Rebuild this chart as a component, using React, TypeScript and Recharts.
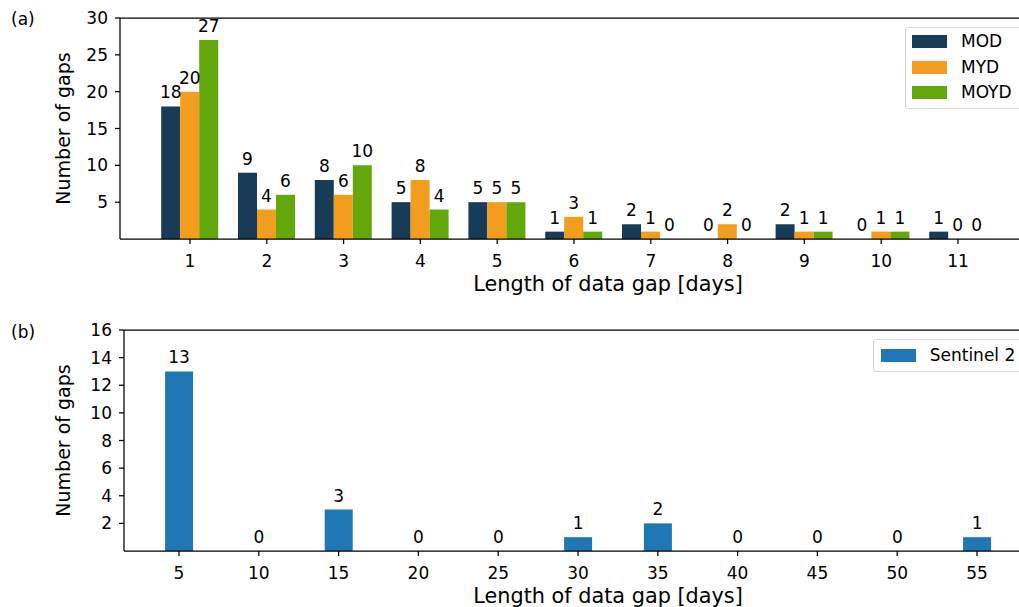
import React from 'react';
import { BarChart, Bar, XAxis, YAxis, LabelList, Legend, ReferenceLine } from 'recharts';

const topCategories = ['1', '2', '3', '4', '5', '6', '7', '8', '9', '10', '11'];
const modValues = [18, 9, 8, 5, 5, 1, 2, 0, 2, 0, 1];
const mydValues = [20, 4, 6, 8, 5, 3, 1, 2, 1, 1, 0];
const moydValues = [27, 6, 10, 4, 5, 1, 0, 0, 1, 1, 0];
const topTicks = [5, 10, 15, 20, 25, 30];
const topSeriesOrder = ['MOD', 'MYD', 'MOYD'];

const bottomCategories = ['5', '10', '15', '20', '25', '30', '35', '40', '45', '50', '55'];
const sentinelValues = [13, 0, 3, 0, 0, 1, 2, 0, 0, 0, 1];
const bottomTicks = [2, 4, 6, 8, 10, 12, 14, 16];

const topData = topCategories.map((c, i) => ({ cat: c, MOD: modValues[i], MYD: mydValues[i], MOYD: moydValues[i] }));
const bottomData = bottomCategories.map((c, i) => ({ cat: c, s2: sentinelValues[i] }));

const FONT = 'DejaVu Sans';
const TEXT = '#000';
const TICK_FS = 17;
const AX = { stroke: '#000', strokeWidth: 1.25 };
const MIN_PT = 0.01;

const yLabel = (text: string) => (props: any) => {
  const vb = props.viewBox || {};
  const cx = 62.5;
  const cy = vb.y + vb.height / 2;
  return (
    <text x={cx} y={cy} transform={`rotate(-90, ${cx}, ${cy})`} textAnchor="middle" dominantBaseline="central" fontFamily={FONT} fontSize={19} fill={TEXT}>
      {text}
    </text>
  );
};

const xLabel = (text: string) => (props: any) => {
  const vb = props.viewBox || {};
  const cx = vb.x + vb.width / 2;
  const y = vb.y + 52;
  return (
    <text x={cx} y={y} textAnchor="middle" fontFamily={FONT} fontSize={20.8} fill={TEXT}>
      {text}
    </text>
  );
};

const barValueLabel = (props: any) => {
  const vb = props.viewBox || props;
  const x = Number(vb.x) + Number(vb.width) / 2;
  const y = Number(vb.y) - 8;
  if (!isFinite(x) || !isFinite(y)) return null;
  return (
    <text x={x} y={y} textAnchor="middle" fontFamily={FONT} fontSize={TICK_FS} fill={TEXT}>
      {String(props.value)}
    </text>
  );
};

const makeLegend = (order: string[] | null, padLeft: number, rowH: number, gap: number, width: number) => (props: any) => {
  let payload = [...(props.payload || [])];
  if (order) payload.sort((a: any, b: any) => order.indexOf(a.value) - order.indexOf(b.value));
  return (
    <div style={{ border: '1px solid #d6d6d6', borderRadius: 3, background: 'rgba(255,255,255,0.8)', padding: `1px 0 2px ${padLeft}px`, width, boxSizing: 'border-box', fontFamily: FONT, fontSize: TICK_FS, color: TEXT }}>
      {payload.map((e: any) => (
        <div key={e.value} style={{ display: 'flex', alignItems: 'center', height: rowH }}>
          <span style={{ display: 'inline-block', width: 35, height: 13, background: e.color, flex: 'none' }} />
          <span style={{ marginLeft: gap, lineHeight: 1, whiteSpace: 'nowrap' }}>{e.value}</span>
        </div>
      ))}
    </div>
  );
};

export default function App() {
  return (
    <div style={{ position: 'absolute', left: 0, top: 0, width: 1019, height: 607, overflow: 'hidden', background: '#fff', fontFamily: FONT }}>
      <div style={{ position: 'absolute', left: 11, top: 9, fontSize: 17, color: TEXT }}>(a)</div>
      <div style={{ position: 'absolute', left: 11, top: 322, fontSize: 17, color: TEXT }}>(b)</div>

      <div style={{ position: 'absolute', left: 0, top: 0 }}>
        <BarChart width={1110} height={300} data={topData} margin={{ top: 18, right: 14, left: 0, bottom: 0 }} barGap={0} barCategoryGap="12.5%">
          <XAxis dataKey="cat" interval={0} height={61} padding={{ left: 31.6, right: 99.6 }} axisLine={AX} tickLine={AX} tickSize={5} tickMargin={11}
            tick={{ fill: TEXT, fontSize: TICK_FS, fontFamily: FONT }} label={{ content: xLabel('Length of data gap [days]') }} />
          <YAxis type="number" domain={[0, 30]} ticks={topTicks} width={120} axisLine={AX} tickLine={AX} tickSize={5} tickMargin={7}
            tick={{ fill: TEXT, fontSize: TICK_FS, fontFamily: FONT }} label={{ content: yLabel('Number of gaps') }} />
          <ReferenceLine y={30} stroke="#000" strokeWidth={1.25} />
          <Legend layout="vertical" align="center" verticalAlign="middle" content={makeLegend(topSeriesOrder, 6, 25.6, 14, 130)} wrapperStyle={{ left: 905, top: 27, width: 130 }} />
          <Bar dataKey="MOD" name="MOD" fill="#183b57" minPointSize={MIN_PT} isAnimationActive={false}>
            <LabelList dataKey="MOD" content={barValueLabel} />
          </Bar>
          <Bar dataKey="MYD" name="MYD" fill="#f39d1f" minPointSize={MIN_PT} isAnimationActive={false}>
            <LabelList dataKey="MYD" content={barValueLabel} />
          </Bar>
          <Bar dataKey="MOYD" name="MOYD" fill="#63a70b" minPointSize={MIN_PT} isAnimationActive={false}>
            <LabelList dataKey="MOYD" content={barValueLabel} />
          </Bar>
        </BarChart>
      </div>

      <div style={{ position: 'absolute', left: 0, top: 312 }}>
        <BarChart width={1110} height={300} data={bottomData} margin={{ top: 18, right: 18, left: 0, bottom: 0 }} barGap={0}>
          <XAxis dataKey="cat" interval={0} height={61} padding={{ left: 15.1, right: 75.1 }} axisLine={AX} tickLine={AX} tickSize={5} tickMargin={11}
            tick={{ fill: TEXT, fontSize: TICK_FS, fontFamily: FONT }} label={{ content: xLabel('Length of data gap [days]') }} />
          <YAxis type="number" domain={[0, 16]} ticks={bottomTicks} width={124} axisLine={AX} tickLine={AX} tickSize={5} tickMargin={7}
            tick={{ fill: TEXT, fontSize: TICK_FS, fontFamily: FONT }} label={{ content: yLabel('Number of gaps') }} />
          <ReferenceLine y={16} stroke="#000" strokeWidth={1.25} />
          <Legend layout="vertical" align="center" verticalAlign="middle" content={makeLegend(null, 7, 28, 14, 170)} wrapperStyle={{ left: 872.7, top: 27.3, width: 170 }} />
          <Bar dataKey="s2" name="Sentinel 2" fill="#1f77b4" barSize={28} minPointSize={MIN_PT} isAnimationActive={false}>
            <LabelList dataKey="s2" content={barValueLabel} />
          </Bar>
        </BarChart>
      </div>
    </div>
  );
}
